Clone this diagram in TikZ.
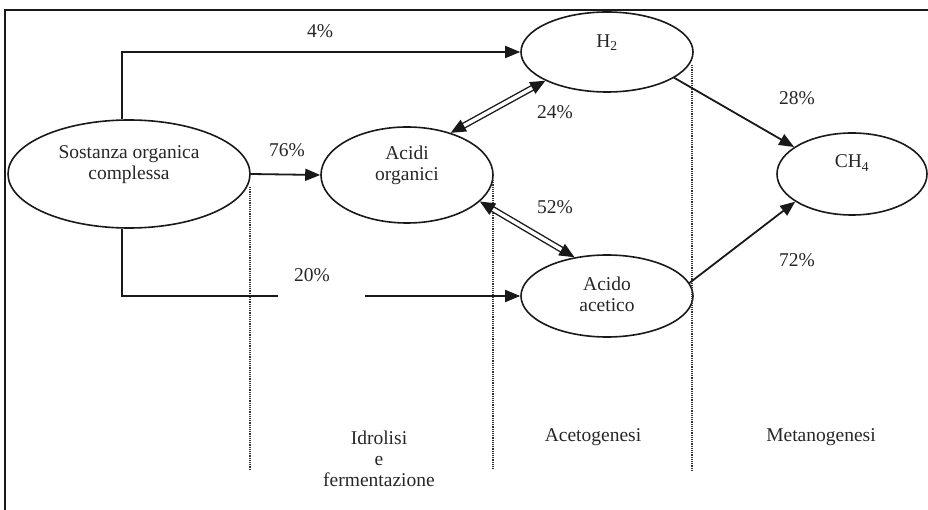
\documentclass[tikz,border=0pt]{standalone}
\usepackage{fontspec}
\setmainfont{Liberation Serif}
\usetikzlibrary{shapes.geometric,arrows.meta}
\begin{document}
\begin{tikzpicture}[x=1pt,y=-1pt,
  every node/.style={font=\fontsize{19.5}{21}\selectfont, text=black!85},
  blob/.style={ellipse, draw=black!90, line width=1.6pt, inner sep=0pt},
  txt/.style={align=center, inner sep=0pt},
  flow/.style={draw=black!90, line width=1.8pt, -{Triangle[length=15pt,width=12pt]}},
  plain/.style={draw=black!90, line width=1.8pt},
  twoway/.style={draw=black!90, double, double distance=3.5pt, line width=1.4pt, {Triangle[length=15pt,width=13pt]}-{Triangle[length=15pt,width=13pt]}},
  sep/.style={draw=black!80, line width=1.2pt, densely dotted},
]
\useasboundingbox (0,0) rectangle (928,510);
\draw[line width=2.2pt, black!90] (5,510) -- (5,10) -- (928,10);

% nodes
\node[blob, minimum width=242pt, minimum height=108pt,
  label={[txt,yshift=9pt,name=sostt]center:{Sostanza organica\\complessa}}] (sost) at (129,174) {};
\node[blob, minimum width=172pt, minimum height=96pt,
  label={[txt,yshift=10pt,name=acidit]center:{Acidi\\organici}}] (acidi) at (407,175) {};
\node[blob, minimum width=172pt, minimum height=80pt,
  label={[txt,yshift=9pt,name=h2t]center:{H\textsubscript{2}}}] (h2) at (607,52) {};
\node[blob, minimum width=150pt, minimum height=82pt,
  label={[txt,yshift=11pt,name=ch4t]center:{CH\textsubscript{4}}}] (ch4) at (852,174) {};
\node[blob, minimum width=172pt, minimum height=82pt,
  label={[txt,yshift=2pt,name=acett]center:{Acido\\acetico}}] (acetico) at (607,296) {};

% phase separators
\draw[sep] (250,187) -- (250,470);
\draw[sep] (493,180) -- (493,470);
\draw[sep] (692,65) -- (692,470);

% connectors
\draw[flow] ([xshift=-7pt]sost.north) |- (h2.west);
\node[txt] (p4) at (320,31) {4\%};
\draw[flow] (sost.east) -- (acidi.west);
\node[txt] (p76) at (287,150) {76\%};
\coordinate (gapL) at (278,296);
\coordinate (gapR) at (365,296);
\draw[plain] ([xshift=-7pt]sost.south) |- (gapL);
\draw[flow] (gapR) -- (acetico.west);
\node[txt] (p20) at (312,275) {20\%};
\draw[twoway] (acidi.44) -- (h2.-155);
\node[txt] (p24) at (555,112) {24\%};
\draw[twoway] (acidi.-20) -- (acetico.130);
\node[txt] (p52) at (555,207) {52\%};
\draw[flow] (h2.-21) -- (ch4.155);
\node[txt] (p28) at (797,98) {28\%};
\draw[flow] (acetico.9) -- (ch4.-154);
\node[txt] (p72) at (797,260) {72\%};

% phase labels
\node[txt] (ph1) at (379,459) {Idrolisi\\e\\fermentazione};
\node[txt] (ph2) at (593,437) {Acetogenesi};
\node[txt] (ph3) at (821,437) {Metanogenesi};
\end{tikzpicture}
\end{document}
